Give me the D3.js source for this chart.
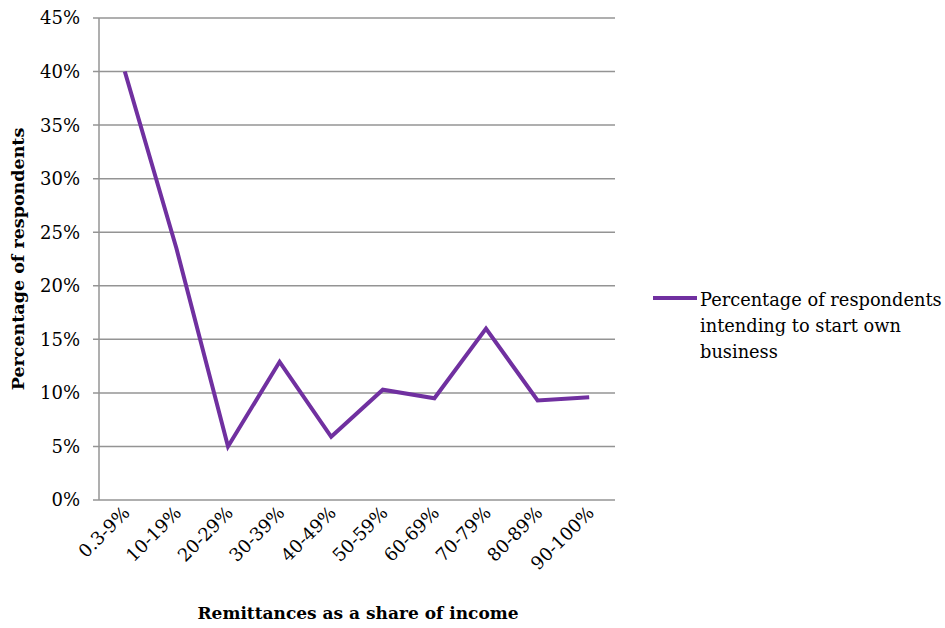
<!DOCTYPE html>
<html>
<head>
<meta charset="utf-8">
<script src="https://cdn.jsdelivr.net/npm/d3@7"></script>
<style>
  body { margin: 0; background: #fff; }
  text { font-family: "DejaVu Serif", serif; fill: #000; }
</style>
</head>
<body>
<div id="chart"></div>
<script>
const categories = ["0.3-9%", "10-19%", "20-29%", "30-39%", "40-49%",
  "50-59%", "60-69%", "70-79%", "80-89%", "90-100%"];
const shareIntending = [40.0, 23.5, 5.0, 12.9, 5.9, 10.3, 9.5, 16.0, 9.3, 9.6];
const yTicks = [0, 5, 10, 15, 20, 25, 30, 35, 40, 45];
const seriesName = ["Percentage of respondents", "intending to start own", "business"];

const width = 945, height = 628;
const margin = { left: 99, right: 330, top: 18, bottom: 128 };
const lineColor = "#7030a0";

const svg = d3.select("#chart").append("svg")
  .attr("width", width)
  .attr("height", height);

const x = d3.scaleBand()
  .domain(categories)
  .range([margin.left, width - margin.right]);

const y = d3.scaleLinear()
  .domain([0, 45])
  .range([height - margin.bottom, margin.top]);

// gridlines
svg.append("g")
  .selectAll("line")
  .data(yTicks)
  .enter()
  .append("line")
  .attr("x1", margin.left - 6)
  .attr("x2", width - margin.right)
  .attr("y1", d => y(d))
  .attr("y2", d => y(d))
  .attr("stroke", "#949494")
  .attr("stroke-width", 1.5);

// y axis line
svg.append("line")
  .attr("x1", margin.left).attr("x2", margin.left)
  .attr("y1", y(45)).attr("y2", y(0))
  .attr("stroke", "#949494")
  .attr("stroke-width", 1.5);

// y tick labels
svg.append("g")
  .selectAll("text")
  .data(yTicks)
  .enter()
  .append("text")
  .attr("x", margin.left - 19)
  .attr("y", d => y(d))
  .attr("dy", "0.36em")
  .attr("text-anchor", "end")
  .style("font-size", "18px")
  .text(d => d + "%");

// x tick labels, rotated
svg.append("g")
  .selectAll("text")
  .data(categories)
  .enter()
  .append("text")
  .attr("text-anchor", "end")
  .attr("transform", d => `translate(${x(d) + x.bandwidth() / 2 + 6}, ${y(0) + 14}) rotate(-45)`)
  .style("font-size", "18px")
  .text(d => d);

// series line
const line = d3.line()
  .x((d, i) => x(categories[i]) + x.bandwidth() / 2)
  .y(d => y(d));

svg.append("path")
  .datum(shareIntending)
  .attr("d", line)
  .attr("fill", "none")
  .attr("stroke", lineColor)
  .attr("stroke-width", 4)
  .attr("stroke-linejoin", "miter");

// axis titles
svg.append("text")
  .attr("x", (margin.left + width - margin.right) / 2 + 1)
  .attr("y", 619)
  .attr("text-anchor", "middle")
  .style("font-size", "17px")
  .style("font-weight", "bold")
  .text("Remittances as a share of income");

svg.append("text")
  .attr("transform", `translate(24, ${(y(0) + y(45)) / 2}) rotate(-90)`)
  .attr("text-anchor", "middle")
  .style("font-size", "17.5px")
  .style("font-weight", "bold")
  .text("Percentage of respondents");

// legend
const legend = svg.append("g").attr("transform", "translate(653, 298)");
legend.append("line")
  .attr("x1", 0).attr("x2", 44)
  .attr("y1", 0).attr("y2", 0)
  .attr("stroke", lineColor)
  .attr("stroke-width", 4);
legend.selectAll("text")
  .data(seriesName)
  .enter()
  .append("text")
  .attr("x", 47)
  .attr("y", (d, i) => 8 + i * 26)
  .style("font-size", "17.8px")
  .text(d => d);
</script>
</body>
</html>
